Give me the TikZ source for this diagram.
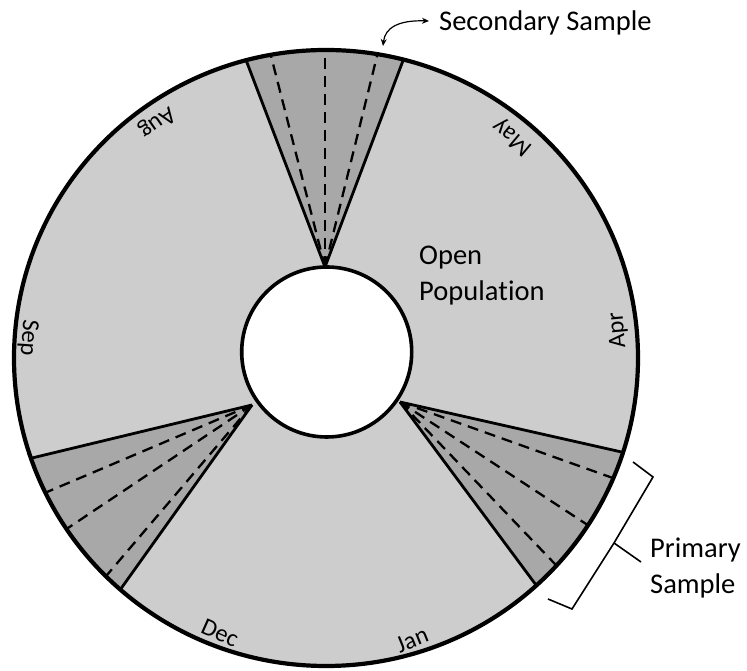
\documentclass[tikz,border=0pt]{standalone}
\usepackage{fontspec}
\setmainfont{Carlito}[Ligatures=NoCommon]
\usetikzlibrary{arrows.meta,calc}
\definecolor{ringgray}{RGB}{205,205,205}
\definecolor{wedgegray}{RGB}{168,168,168}
\begin{document}
\begin{tikzpicture}[x=1pt,y=1pt,
  bigtext/.style={font=\fontsize{28.5}{36}\selectfont, inner sep=0pt, align=left},
  monthlbl/.style={font=\fontsize{24.5}{29}\selectfont, inner sep=0pt},
  edgeline/.style={line width=2.8pt},
  dashline/.style={line width=2.3pt, dash pattern=on 11pt off 7pt},
  wedgefill/.style={fill=wedgegray},
  bracestyle/.style={line width=1.6pt, line join=miter},
  arrowstyle/.style={line width=1.2pt, {Stealth[length=7pt,width=6pt]}-{Stealth[length=7pt,width=6pt]}}
]
\useasboundingbox (0,0) rectangle (747,671);
\coordinate (oc) at (326,313);
\coordinate (ic) at (326.7,319);
% ring base
\fill[ringgray] (oc) ellipse [x radius=312, y radius=308];
% apexes and end points
\coordinate (tA) at (325,404);
\coordinate (tL) at (246,611);
\coordinate (tR) at (404,613);
\coordinate (t1) at (270,619);
\coordinate (t2) at (325,621);
\coordinate (t3) at (378,619);
\coordinate (rA) at (400,269);
\coordinate (rU) at (626,218);
\coordinate (rL) at (536,86);
\coordinate (r1) at (610,194);
\coordinate (r2) at (580,151);
\coordinate (r3) at (554,108);
\coordinate (lA) at (252,266);
\coordinate (lU) at (32,213);
\coordinate (lL) at (120,81);
\coordinate (l1) at (47,179);
\coordinate (l2) at (68,143);
\coordinate (l3) at (107,96);
\begin{scope}
  \clip (oc) ellipse [x radius=312, y radius=308];
  \fill[wedgefill] (tA) -- ($(tA)!1.5!(tL)$) -- ($(tA)!1.5!(tR)$) -- cycle;
  \fill[wedgefill] (rA) -- ($(rA)!1.5!(rU)$) -- ($(rA)!1.5!(rL)$) -- cycle;
  \fill[wedgefill] (lA) -- ($(lA)!1.5!(lU)$) -- ($(lA)!1.5!(lL)$) -- cycle;
  \foreach \a/\b in {tA/t1,tA/t2,tA/t3,rA/r1,rA/r2,rA/r3,lA/l1,lA/l2,lA/l3}
    \draw[dashline] (\a) -- ($(\a)!1.2!(\b)$);
  \foreach \a/\b in {tA/tL,tA/tR,rA/rU,rA/rL,lA/lU,lA/lL}
    \draw[edgeline] (\a) -- ($(\a)!1.2!(\b)$);
\end{scope}
\draw[line width=4.2pt] (oc) ellipse [x radius=312, y radius=308];
\draw[line width=3.6pt, fill=white] (ic) circle [radius=85];
% month labels
\node[monthlbl, rotate=95] (apr) at (618,341) {Apr};
\node[monthlbl, rotate=140] (may) at (513,534) {May};
\node[monthlbl, rotate=215] (aug) at (157,549) {Aug};
\node[monthlbl, rotate=266] (sep) at (28,333) {Sep};
\node[monthlbl, rotate=-24] (dec) at (220,38) {Dec};
\node[monthlbl, rotate=22] (jan) at (412,31) {Jan};
% main labels
\node[bigtext, anchor=west] (open) at (419,395) {Open\\Popula\kern0pt tion};
\node[bigtext, anchor=west] (sec) at (439,648) {Secondary Sample};
\node[bigtext, anchor=west] (prim) at (650,103) {Primary\\Sample};
% secondary arrow
\coordinate (secA) at (383,625);
\coordinate (secB) at (429,650);
\draw[arrowstyle] (secA) .. controls (385,643) and (398,651) .. (secB);
% primary brace
\coordinate (bTop) at (633,209);
\coordinate (bTopC) at (653,194);
\coordinate (bMid) at (614,128);
\coordinate (bTip) at (641,109);
\coordinate (bBotC) at (572,62);
\coordinate (bBot) at (548,72);
\draw[bracestyle] (bTop) -- (bTopC) -- (bMid) -- (bBotC) -- (bBot);
\draw[bracestyle] (bMid) -- (bTip);
\end{tikzpicture}
\end{document}
